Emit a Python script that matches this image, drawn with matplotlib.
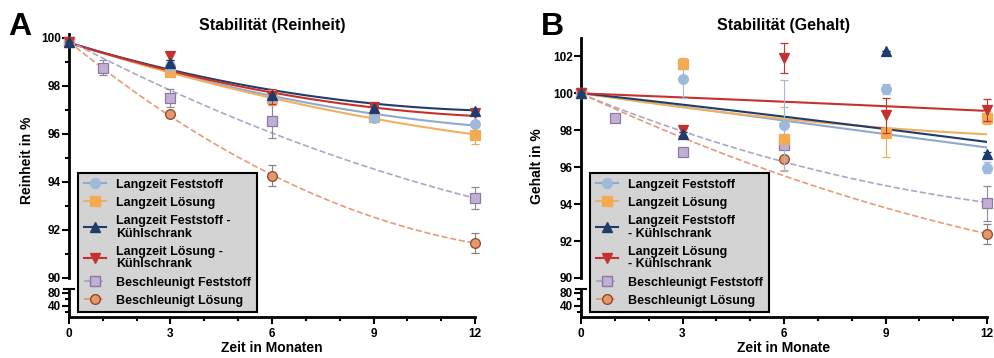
import numpy as np
import matplotlib
matplotlib.use('Agg')
import matplotlib.pyplot as plt
import matplotlib.ticker as ticker
from matplotlib.lines import Line2D

plt.rcParams['font.family'] = ['Liberation Sans', 'DejaVu Sans']
plt.rcParams['font.weight'] = 'bold'
plt.rcParams['axes.labelweight'] = 'bold'

# Zeitpunkte (Monate)
months = [0, 3, 6, 9, 12]
months_beschl = [0, 1, 3, 6, 12]

# --- A: Reinheit ---
lz_fest_A = [99.8, 98.83, 97.5, 96.67, 96.42]
lz_fest_A_sd = [0, 0.15, 0.1, 0.05, 0.1]
lz_loes_A = [99.8, 98.55, 97.5, 96.68, 95.96]
lz_loes_A_sd = [0, 0.05, 0.3, 0.05, 0.38]
lz_fest_k_A = [99.8, 98.95, 97.6, 97.08, 96.95]
lz_fest_k_A_sd = [0, 0.1, 0.1, 0.08, 0.1]
lz_loes_k_A = [99.8, 99.22, 97.55, 97.1, 96.88]
lz_loes_k_A_sd = [0, 0.15, 0.3, 0.05, 0.08]
be_fest_A = [99.8, 98.75, 97.49, 96.51, 93.32]
be_fest_A_sd = [0, 0.3, 0.37, 0.69, 0.45]
be_loes_A = [99.8, np.nan, 96.82, 94.25, 91.45]
be_loes_A_sd = [0, 0, 0.08, 0.43, 0.42]

fit_lz_fest_A = [99.8, 98.57, 97.55, 96.86, 96.33]
fit_lz_loes_A = [99.8, 98.52, 97.49, 96.65, 95.96]
fit_lz_fest_k_A = [99.8, 98.62, 97.83, 97.28, 96.96]
fit_lz_loes_k_A = [99.8, 98.6, 97.69, 97.14, 96.72]
fit_be_fest_A = [99.8, 97.95, 95.95, 94.5, 93.35]
fit_be_loes_A = [99.8, 96.8, 94.22, 92.55, 91.45]

# --- B: Gehalt ---
lz_fest_B = [100, 100.8, 98.27, 100.22, 95.98]
lz_fest_B_sd = [0, 1.05, 2.45, 0.27, 0.3]
lz_loes_B = [100, 101.6, 97.55, 97.84, 98.69]
lz_loes_B_sd = [0, 0.3, 1.7, 1.28, 0.35]
lz_fest_k_B = [100, 97.8, np.nan, 102.3, 96.7]
lz_fest_k_B_sd = [0, 0.1, 0, 0, 0.1]
lz_loes_k_B = [100, 98.0, 101.93, 98.81, 99.08]
lz_loes_k_B_sd = [0, 0.1, 0.8, 0.95, 0.6]
be_fest_B = [100, 98.67, 96.83, 97.2, 94.04]
be_fest_B_sd = [0, 0, 0, 0.1, 0.95]
be_loes_B = [100, np.nan, np.nan, 96.43, 92.38]
be_loes_B_sd = [0, 0, 0, 0.15, 0.55]

fit_lz_fest_B = [100, 99.3, 98.5, 97.8, 97.07]
fit_lz_loes_B = [100, 99.3, 98.6, 98.1, 97.8]
fit_lz_fest_k_B = [100, 99.42, 98.75, 98.02, 97.39]
fit_lz_loes_k_B = [100, 99.78, 99.55, 99.3, 99.05]
fit_be_fest_B = [100, 97.9, 96.25, 95.1, 94.05]
fit_be_loes_B = [100, 97.6, 95.5, 93.85, 92.38]

labels_A = ['Langzeit Feststoff', 'Langzeit Lösung', 'Langzeit Feststoff -\nKühlschrank',
            'Langzeit Lösung -\nKühlschrank', 'Beschleunigt Feststoff', 'Beschleunigt Lösung']
labels_B = ['Langzeit Feststoff', 'Langzeit Lösung', 'Langzeit Feststoff\n- Kühlschrank',
            'Langzeit Lösung\n- Kühlschrank', 'Beschleunigt Feststoff', 'Beschleunigt Lösung']

# marker, Füllfarbe, Randfarbe, Linienfarbe, Linienstil, Fehlerbalkenfarbe
styles = [
    ('o', '#9db9dc', '#9db9dc', '#8fa9cf', '-', '#9db9dc'),
    ('s', '#f4aa52', '#f4aa52', '#f0b060', '-', '#f4aa52'),
    ('^', '#1f3d6b', '#1f3d6b', '#1f3d6b', '-', '#1f3d6b'),
    ('v', '#c4322f', '#c4322f', '#c9302c', '-', '#c4322f'),
    ('s', '#c3aed6', '#8c7aa0', '#aaa6cc', '--', '#8c8a99'),
    ('o', '#e8956a', '#8a4a30', '#e89a78', '--', '#8a8080'),
]
# Zeichenreihenfolge der Punkte (oben liegt der hoechste Wert)
marker_z = [3.3, 3.2, 3.5, 3.4, 3.1, 3.0]


def smooth(x, y):
    coef = np.polyfit(x, y, 2)
    xs = np.linspace(0, 12, 120)
    return xs, np.polyval(coef, xs)


def panel(rect_top, rect_bot, data, fits, ylim, yticks, yminor, legend_labels, legend_pos):
    ax = fig.add_axes(rect_top)
    axb = fig.add_axes(rect_bot)
    for i, ((x, y, sd), fit, st) in enumerate(zip(data, fits, styles)):
        m, fc, ec, lc, ls, erc = st
        xs, ys = smooth(months, fit)
        lw = 1.5 if ls == '-' else 1.2
        ax.plot(xs, ys, color=lc, ls=ls, lw=lw, zorder=2 + i * 0.1)
        cont = ax.errorbar(x, y, yerr=sd, fmt=m, ms=7, mfc=fc, mec=ec, mew=0.9,
                           ecolor=erc, elinewidth=0.8, capsize=3, capthick=0.8,
                           zorder=marker_z[i])
        for art in [cont[0]] + list(cont[1]) + list(cont[2]):
            art.set_clip_on(False)
    ax.set_xlim(0, 12)
    ax.set_ylim(*ylim)
    ax.set_yticks(yticks)
    if yminor:
        ax.yaxis.set_minor_locator(ticker.MultipleLocator(1))
    for s in ['top', 'right', 'bottom']:
        ax.spines[s].set_visible(False)
    ax.spines['left'].set_linewidth(2)
    ax.tick_params(axis='x', bottom=False, labelbottom=False)
    ax.tick_params(axis='y', which='major', direction='out', length=5, width=1.5, labelsize=8.5, pad=1)
    ax.tick_params(axis='y', which='minor', direction='out', length=3, width=1.5)

    axb.set_xlim(0, 12)
    axb.set_ylim(4, 92)
    axb.set_yticks([40, 80])
    axb.yaxis.set_minor_locator(ticker.FixedLocator([20, 60]))
    axb.set_xticks(months)
    axb.xaxis.set_minor_locator(ticker.MultipleLocator(1))
    for s in ['top', 'right']:
        axb.spines[s].set_visible(False)
    axb.spines['left'].set_linewidth(2)
    axb.spines['bottom'].set_linewidth(2)
    axb.patch.set_alpha(0)
    axb.tick_params(which='major', direction='out', length=5, width=1.5, labelsize=8.5, pad=1)
    axb.tick_params(which='minor', direction='out', length=3, width=1.5)
    axb.tick_params(axis='x', pad=3)
    axb.plot([-0.012, 0.012], [1, 1], transform=axb.transAxes, color='black', lw=1.5, clip_on=False)

    handles = []
    for m, fc, ec, lc, ls, erc in styles:
        handles.append(Line2D([], [], marker=m, ms=7, mfc=fc, mec=ec, color=lc, ls=ls, lw=1.5))
    leg = fig.legend(handles, legend_labels, loc='upper left', bbox_to_anchor=legend_pos,
                     frameon=True, fancybox=False, facecolor='#d3d3d3', edgecolor='black',
                     framealpha=1, prop={'weight': 'bold', 'size': 9}, borderpad=0.45,
                     labelspacing=0.5, handlelength=1.8, handletextpad=0.8, borderaxespad=0)
    leg.get_frame().set_linewidth(1.5)
    for t in leg.get_texts():
        t.set_linespacing(1.05)
    return ax, axb


fig = plt.figure(figsize=(9.94, 3.58), dpi=100)

data_A = [(months, lz_fest_A, lz_fest_A_sd), (months, lz_loes_A, lz_loes_A_sd),
          (months, lz_fest_k_A, lz_fest_k_A_sd), (months, lz_loes_k_A, lz_loes_k_A_sd),
          (months_beschl, be_fest_A, be_fest_A_sd), (months_beschl, be_loes_A, be_loes_A_sd)]
fits_A = [fit_lz_fest_A, fit_lz_loes_A, fit_lz_fest_k_A, fit_lz_loes_k_A, fit_be_fest_A, fit_be_loes_A]
data_B = [(months, lz_fest_B, lz_fest_B_sd), (months, lz_loes_B, lz_loes_B_sd),
          (months, lz_fest_k_B, lz_fest_k_B_sd), (months, lz_loes_k_B, lz_loes_k_B_sd),
          (months_beschl, be_fest_B, be_fest_B_sd), (months_beschl, be_loes_B, be_loes_B_sd)]
fits_B = [fit_lz_fest_B, fit_lz_loes_B, fit_lz_fest_k_B, fit_lz_loes_k_B, fit_be_fest_B, fit_be_loes_B]

panel([0.0694, 0.2235, 0.4085, 0.6816], [0.0694, 0.1145, 0.4085, 0.078], data_A, fits_A,
      (90, 100.15), [90, 92, 94, 96, 98, 100], True, labels_A, (0.0785, 0.5168))
panel([0.5845, 0.2235, 0.4085, 0.6704], [0.5845, 0.1145, 0.4085, 0.078], data_B, fits_B,
      (90, 103.0), [90, 92, 94, 96, 98, 100, 102], False, labels_B, (0.5936, 0.5168))

fig.text(0.2736, 0.930, 'Stabilität (Reinheit)', ha='center', va='center', fontsize=11.5, fontweight='bold')
fig.text(0.7887, 0.930, 'Stabilität (Gehalt)', ha='center', va='center', fontsize=11.5, fontweight='bold')
fig.text(0.008, 1 - 35 / 358, 'A', ha='left', va='baseline', fontsize=23, fontweight='bold')
fig.text(0.544, 1 - 35 / 358, 'B', ha='left', va='baseline', fontsize=23, fontweight='bold')
fig.text(0.027, 1 - 160 / 358, 'Reinheit in %', rotation=90, ha='center', va='center', fontsize=10, fontweight='bold')
fig.text(0.540, 1 - 166 / 358, 'Gehalt in %', rotation=90, ha='center', va='center', fontsize=10, fontweight='bold')
fig.text(0.2736, 1 - 348 / 358, 'Zeit in Monaten', ha='center', va='center', fontsize=10, fontweight='bold')
fig.text(0.7887, 1 - 348 / 358, 'Zeit in Monate', ha='center', va='center', fontsize=10, fontweight='bold')

plt.savefig('out.png', dpi=100)
